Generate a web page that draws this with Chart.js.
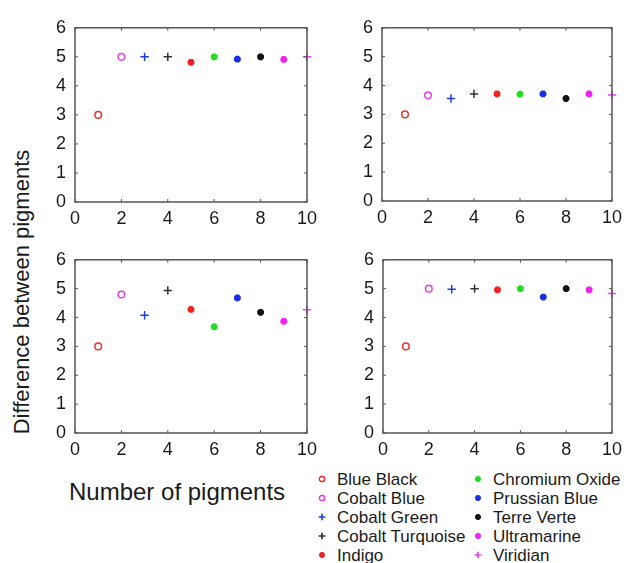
<!DOCTYPE html>
<html>
<head>
<meta charset="utf-8">
<script src="https://cdn.jsdelivr.net/npm/chart.js@4/dist/chart.umd.min.js"></script>
<style>
  html, body { margin: 0; padding: 0; background: #fff; }
  body { width: 630px; height: 563px; position: relative; overflow: hidden;
         font-family: "Liberation Sans", Arial, sans-serif; color: #1a1a1a; }
  .panel { position: absolute; }
  .ytitle { position: absolute; left: 22px; top: 292px; font-size: 22px; white-space: nowrap;
            transform: translate(-50%, -50%) rotate(-90deg); }
  .xtitle { position: absolute; left: 69px; top: 478px; font-size: 24px; white-space: nowrap; }
  .legend-item { position: absolute; font-size: 17px; white-space: nowrap; line-height: 19px; }
  .legend-item canvas { position: absolute; left: -22px; top: 2px; }
</style>
</head>
<body>
<div class="ytitle">Difference between pigments</div>
<div class="xtitle">Number of pigments</div>
<div id="legend"></div>
<script>
// pigment order / legend
const pigments = ['Blue Black', 'Cobalt Blue', 'Cobalt Green', 'Cobalt Turquoise', 'Indigo',
                  'Chromium Oxide', 'Prussian Blue', 'Terre Verte', 'Ultramarine', 'Viridian'];
const pigmentNumber = [1, 2, 3, 4, 5, 6, 7, 8, 9, 10];
const pigmentColors = ['#e8322e', '#e040e8', '#1f3fe0', '#333333', '#ee2222',
                       '#22dd22', '#1a2ee8', '#111111', '#f020f0', '#f040f0'];
const pigmentMarkers = ['circle', 'circle', 'cross', 'cross', 'star',
                        'star', 'star', 'star', 'star', 'cross'];

// values
const panelTopLeft     = [3, 5, 5, 5, 4.81, 5, 4.92, 5, 4.91, 5];
const panelTopRight    = [3, 3.66, 3.55, 3.71, 3.71, 3.70, 3.71, 3.55, 3.71, 3.67];
const panelBottomLeft  = [3, 4.8, 4.08, 4.94, 4.28, 3.68, 4.68, 4.18, 3.87, 4.27];
const panelBottomRight = [3, 5, 4.98, 5, 4.96, 5, 4.71, 5, 4.96, 4.83];

const xTicks = [0, 2, 4, 6, 8, 10];
const yTicks = [0, 1, 2, 3, 4, 5, 6];

const FONT = '"Liberation Sans", Arial, sans-serif';
const AXIS_W = 35, AXIS_H = 30, PAD_TOP = 12, PAD_RIGHT = 16;

// box round the plot plus inward tick marks (matlab look)
const boxPlugin = {
    id: 'box',
    afterDatasetsDraw(chart) {
        const { ctx, chartArea: a, scales } = chart;
        ctx.save();
        ctx.strokeStyle = '#555';
        ctx.lineWidth = 1.5;
        ctx.strokeRect(a.left, a.top, a.right - a.left, a.bottom - a.top);
        ctx.lineWidth = 1;
        ctx.beginPath();
        xTicks.forEach(v => {
            const px = scales.x.getPixelForValue(v);
            ctx.moveTo(px, a.bottom); ctx.lineTo(px, a.bottom - 3);
            ctx.moveTo(px, a.top); ctx.lineTo(px, a.top + 3);
        });
        yTicks.forEach(v => {
            const py = scales.y.getPixelForValue(v);
            ctx.moveTo(a.left, py); ctx.lineTo(a.left + 3, py);
            ctx.moveTo(a.right, py); ctx.lineTo(a.right - 3, py);
        });
        ctx.stroke();
        ctx.restore();
    }
};

function markerOptions(i) {
    const style = pigmentMarkers[i];
    if (style === 'circle') return { pointStyle: 'circle', radius: 3.3, borderWidth: 1.5 };
    if (style === 'cross') return { pointStyle: 'cross', radius: 4.2, borderWidth: 1.5 };
    return { pointStyle: 'star', radius: 3.4, borderWidth: 2.6 };
}

function makePanel(id, values, plotLeft, plotTop, plotW, plotH) {
    const canvas = document.createElement('canvas');
    canvas.className = 'panel';
    const w = plotW + AXIS_W + PAD_RIGHT, h = plotH + AXIS_H + PAD_TOP;
    canvas.style.left = (plotLeft - AXIS_W) + 'px';
    canvas.style.top = (plotTop - PAD_TOP) + 'px';
    canvas.style.width = w + 'px';
    canvas.style.height = h + 'px';
    canvas.width = w; canvas.height = h;
    canvas.id = id;
    document.body.appendChild(canvas);

    const datasets = pigments.map((name, i) => {
        const m = markerOptions(i);
        return {
            label: name,
            data: [{ x: pigmentNumber[i], y: values[i] }],
            pointStyle: m.pointStyle,
            pointRadius: m.radius,
            pointBorderWidth: m.borderWidth,
            borderColor: pigmentColors[i],
            backgroundColor: 'rgba(0,0,0,0)',
            showLine: false,
            clip: false
        };
    });

    const tickFont = { family: FONT, size: 18 };
    new Chart(canvas.getContext('2d'), {
        type: 'scatter',
        data: { datasets: datasets },
        options: {
            responsive: false,
            animation: false,
            events: [],
            layout: { padding: { top: PAD_TOP, right: PAD_RIGHT, left: 0, bottom: 0 } },
            scales: {
                x: {
                    type: 'linear', min: 0, max: 10,
                    afterBuildTicks: s => { s.ticks = xTicks.map(v => ({ value: v })); },
                    afterFit: s => { s.height = AXIS_H; },
                    grid: { display: false, drawTicks: false },
                    border: { display: false },
                    ticks: { font: tickFont, color: '#1a1a1a', padding: 6, maxRotation: 0 }
                },
                y: {
                    type: 'linear', min: 0, max: 6,
                    afterBuildTicks: s => { s.ticks = yTicks.map(v => ({ value: v })); },
                    afterFit: s => { s.width = AXIS_W; },
                    grid: { display: false, drawTicks: false },
                    border: { display: false },
                    ticks: { font: tickFont, color: '#1a1a1a', padding: 9 }
                }
            },
            plugins: { legend: { display: false }, tooltip: { enabled: false } }
        },
        plugins: [boxPlugin]
    });
}

makePanel('tl', panelTopLeft, 75, 20, 232, 182);
makePanel('tr', panelTopRight, 382, 20, 230, 181);
makePanel('bl', panelBottomLeft, 75, 252, 232, 181);
makePanel('br', panelBottomRight, 383, 252, 229, 181);

// legend: two columns of five
const legend = document.getElementById('legend');
pigments.forEach((name, i) => {
    const col = Math.floor(i / 5), row = i % 5;
    const item = document.createElement('div');
    item.className = 'legend-item';
    item.style.left = (col === 0 ? 337 : 493) + 'px';
    item.style.top = (470 + row * 19.1) + 'px';
    const mk = document.createElement('canvas');
    mk.width = 14; mk.height = 14;
    item.appendChild(mk);
    item.appendChild(document.createTextNode(name));
    legend.appendChild(item);
    const c = mk.getContext('2d');
    const m = markerOptions(i);
    c.strokeStyle = pigmentColors[i];
    c.fillStyle = 'rgba(0,0,0,0)';
    c.lineWidth = m.borderWidth * 0.8;
    if (Chart.helpers && Chart.helpers.drawPoint) {
        Chart.helpers.drawPoint(c, { pointStyle: m.pointStyle, radius: m.radius * 0.8, rotation: 0,
                                     borderWidth: m.borderWidth * 0.8 }, 7, 7);
        c.stroke();
    }
});
</script>
</body>
</html>
